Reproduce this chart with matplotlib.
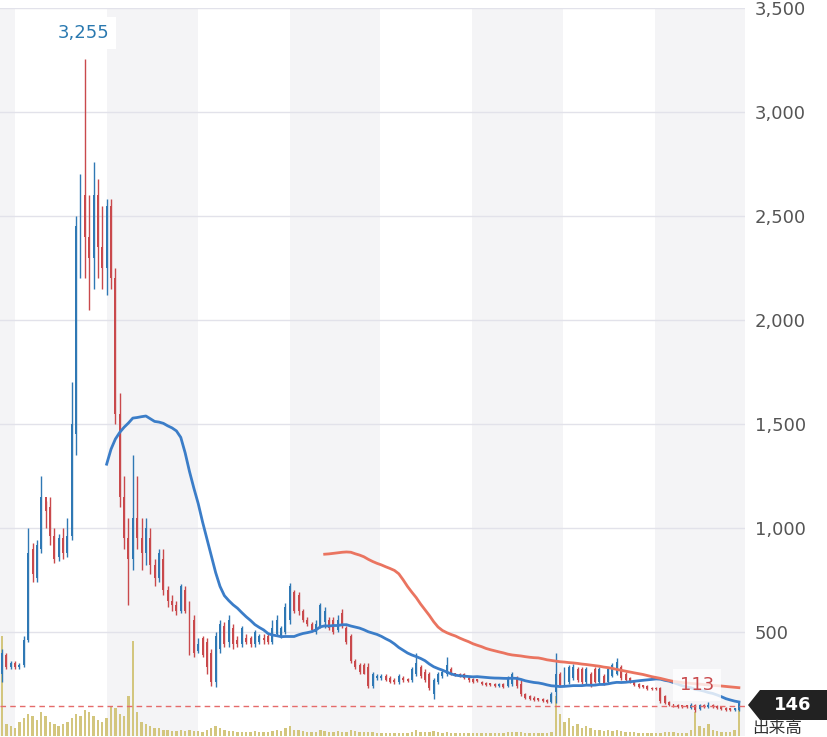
import matplotlib
matplotlib.use("Agg")
import matplotlib.pyplot as plt
from matplotlib.patches import Polygon
import numpy as np
import pandas as pd

opens = [300,390,330,350,330,340,460,900,760,900,1150,1100,960,860,950,880,960,1450,2300,2600,
         2400,2300,2600,2350,2250,2550,2200,1550,1150,950,850,1050,950,880,950,820,760,850,700,650,
         630,600,700,620,560,410,470,450,400,260,420,530,450,520,460,440,470,470,440,450,
         470,480,450,490,480,500,560,690,680,600,560,540,500,530,550,560,560,510,590,520,
         480,360,340,340,330,240,280,280,290,280,270,260,280,275,270,300,330,310,300,200,
         260,290,300,320,300,300,300,280,275,270,260,255,250,250,240,250,240,250,280,250,
         200,190,185,180,178,175,165,210,300,250,260,280,320,320,260,300,320,260,290,260,
         290,300,330,300,280,260,250,240,240,230,230,230,190,165,150,150,145,145,135,150,
         130,150,140,150,145,140,135,130,125,125]
closes = [400,330,350,330,340,460,880,780,920,1150,1080,960,850,950,880,960,1500,2450,2650,2400,
          2300,2600,2350,2250,2550,2200,1550,1150,950,850,1050,950,880,1000,820,760,880,700,650,630,
          600,720,600,400,400,440,390,330,260,480,540,440,560,440,440,520,450,440,500,480,
          460,450,520,560,520,620,720,600,600,560,540,510,540,630,600,520,500,560,530,450,
          360,330,310,300,240,300,290,290,270,260,260,290,270,265,320,350,290,270,230,270,
          300,310,340,300,295,290,280,270,260,265,250,245,245,240,250,235,280,300,240,200,
          185,180,175,175,170,165,200,300,245,320,330,330,270,260,320,240,260,320,250,320,
          340,355,280,270,260,245,235,235,225,225,225,170,160,150,145,140,140,140,150,125,
          150,140,150,140,135,130,125,125,130,160]
highs = [420,400,360,360,350,480,1000,930,940,1250,1130,1150,1000,970,1000,1050,1700,2500,2700,3255,
         2600,2760,2680,2550,2580,2580,2250,1650,1250,1050,1350,1250,1050,1050,1000,850,900,900,720,680,
         650,730,720,650,580,470,480,470,420,500,560,550,580,540,480,530,490,480,510,490,
         490,490,560,580,530,640,735,700,690,610,570,550,560,640,620,570,570,580,610,530,
         490,370,350,350,350,310,300,300,300,290,280,300,290,280,330,400,340,320,310,280,
         310,320,380,330,305,305,305,290,280,275,265,260,255,255,255,255,290,310,290,270,
         205,195,190,185,182,180,210,400,310,330,340,345,330,330,330,310,330,330,300,330,
         350,375,340,310,285,265,255,245,245,235,235,235,195,170,155,155,150,150,160,155,
         155,155,165,155,150,145,140,135,135,170]
lows = [260,320,320,320,320,330,450,740,740,880,1000,920,830,840,850,860,940,1350,2200,2200,
        2050,2150,2200,2150,2120,2150,1500,1100,900,630,800,900,800,820,780,720,740,680,620,600,
        580,590,590,390,380,400,380,300,240,235,400,430,430,420,430,430,440,430,430,440,
        440,440,440,480,470,490,540,590,580,550,530,500,490,520,520,510,490,500,520,440,
        350,320,300,300,230,230,270,270,265,255,250,250,260,260,260,290,280,260,220,180,
        250,280,290,295,290,285,275,260,255,260,245,240,240,235,235,230,235,240,230,190,
        180,175,170,170,165,160,160,160,240,240,250,270,260,250,250,235,255,250,245,255,
        285,295,270,265,255,240,230,230,220,220,220,160,155,145,140,135,135,135,130,113,
        125,135,135,135,130,125,120,120,120,120]
volumes = [100,12,10,8,14,18,22,20,16,24,20,14,12,10,12,14,18,22,20,26,
           24,20,16,14,18,30,28,22,20,40,95,24,14,12,10,8,8,6,6,5,
           5,6,5,6,5,5,4,6,8,10,8,6,5,5,4,4,4,4,5,4,
           4,4,5,6,5,8,10,6,6,5,4,4,4,6,5,4,4,5,4,4,
           6,5,4,4,4,4,3,3,3,3,3,3,3,3,4,6,4,4,4,5,
           4,3,4,3,3,3,3,3,3,3,3,3,3,3,3,3,4,4,4,4,
           3,3,3,3,3,3,4,40,22,14,18,10,12,8,10,8,6,6,5,6,
           5,6,5,4,4,4,3,3,3,3,3,3,4,4,4,3,3,3,6,24,
           10,8,12,6,5,4,4,4,6,35]
month_edges = [-0.46, 3.0, 24.1, 45.0, 66.1, 86.7, 107.8, 128.7, 149.8, 170.4]
yticks = [500, 1000, 1500, 2000, 2500, 3000, 3500]
last_price = 146
max_label = "3,255"
min_label = "113"

UP = "#2f78b4"; DOWN = "#c9494c"
n = len(closes)
idx = np.arange(n)

fig = plt.figure(figsize=(8.27, 7.37), dpi=100)
ax = fig.add_axes([0, 1 - 736/737, 745/827, (736 - 8)/737])
ax.set_xlim(month_edges[0], month_edges[-1])
ax.set_ylim(0, 3500)

vax = ax.twinx()
vax.set_ylim(0, 730)
for k in range(len(month_edges) - 1):
    if k % 2 == 0:
        vax.axvspan(month_edges[k], month_edges[k+1], color="#f4f4f6", lw=0, zorder=0)
vax.bar(idx, volumes, width=0.55, color="#d3c67e", zorder=2)
vax.axis("off")

ax.set_zorder(vax.get_zorder() + 1)
ax.patch.set_visible(False)
for t in yticks:
    ax.axhline(t, color="#e2e2ea", lw=1, zorder=1)

o = np.array(opens); c = np.array(closes); h = np.array(highs); l = np.array(lows)
cols = [UP if c[i] >= o[i] else DOWN for i in range(n)]
ax.vlines(idx, l, h, colors=cols, lw=1.0, zorder=3)
ax.bar(idx, np.maximum(np.abs(c - o), 8), bottom=np.minimum(o, c), width=0.45, color=cols, zorder=3)

s = pd.Series(closes, dtype=float)
ax.plot(idx, s.rolling(25).mean(), color="#3b7dc8", lw=2, zorder=4)
ax.plot(idx, s.rolling(75).mean(), color="#ea7460", lw=2, zorder=4)

ax.axhline(last_price, color="#e56b6b", lw=1, ls=(0, (4, 3)), zorder=5)

imax = int(np.argmax(h)); imin = int(np.argmin(l))
ax.text(imax - 0.3, 3380, max_label, color="#2a79b0", fontsize=13, ha="center", va="center",
        bbox=dict(facecolor="white", edgecolor="none", pad=5), zorder=6)
ax.text(imin + 0.5, 245, min_label, color="#c9494c", fontsize=13, ha="center", va="center",
        bbox=dict(facecolor="white", edgecolor="none", alpha=0.8, pad=5), zorder=6)

ax.set_xticks([])
ax.set_yticks(yticks)
ax.yaxis.tick_right()
ax.set_yticklabels([f"{t:,}" for t in yticks], fontsize=13, color="#555555")
ax.tick_params(axis="y", length=0, pad=7)
for sp in ax.spines.values():
    sp.set_visible(False)
for sp in vax.spines.values():
    sp.set_visible(False)

W, H = 827, 737
yc = 705
pts = [(748, yc), (760, yc - 15), (827, yc - 15), (827, yc + 15), (760, yc + 15)]
fig.patches.append(Polygon([(x/W, 1 - y/H) for x, y in pts], closed=True,
                           transform=fig.transFigure, facecolor="#222222", edgecolor="none"))
fig.text(793/W, 1 - yc/H, str(last_price), color="white", fontsize=13, fontweight="bold",
         ha="center", va="center")
fig.text(752/W, 1 - 729/H, "出来高", color="#333333", fontsize=12, ha="left", va="center",
         family=["Noto Sans CJK JP", "DejaVu Sans"])

fig.savefig("out.png", dpi=100)
